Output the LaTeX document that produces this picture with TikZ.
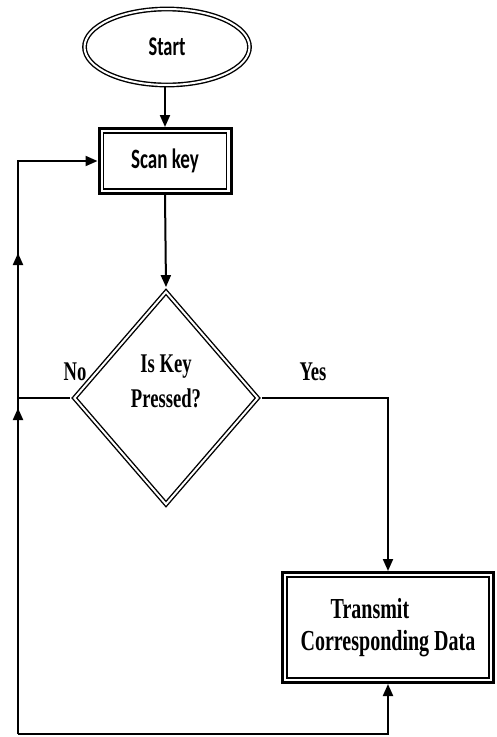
\documentclass[tikz,border=0pt]{standalone}
\usepackage{fontspec}
\newfontfamily\flowserif{Liberation Serif}[FakeStretch=0.69]
\newfontfamily\flowsans{Carlito}[FakeStretch=0.68]
\usetikzlibrary{shapes.geometric, arrows.meta, decorations.markings}

\begin{document}
\begin{tikzpicture}[x=1pt, y=-1pt,
  tip/.style={-{Triangle[length=12pt,width=10pt]}},
  link/.style={line width=2pt},
  flow/.style={link, tip},
  terminal/.style={ellipse, draw, double, line width=1.4pt, double distance=2pt,
    minimum width=165pt, minimum height=76pt, inner sep=0pt, outer sep=2.4pt,
    font=\flowsans\bfseries\fontsize{27}{30}\selectfont},
  decision/.style={diamond, draw, double, line width=1.4pt, double distance=2pt,
    minimum width=186pt, minimum height=215pt, inner sep=0pt, outer sep=3.4pt},
  process/.style={rectangle, draw, line width=3pt, inner sep=0pt},
  innerframe/.style={draw, line width=1.3pt},
  serifbig/.style={font=\flowserif\bfseries\fontsize{27}{35}\selectfont},
  upmarks/.style={postaction={decorate}, decoration={markings,
    mark=at position 326pt with {\arrow{Triangle[length=12pt,width=10pt]}},
    mark=at position 481pt with {\arrow{Triangle[length=12pt,width=10pt]}}}}
]
\useasboundingbox (0,0) rectangle (496,737);
\fill[white] (0,0) rectangle (496,737);

% start terminal
\node[terminal] (start) at (167,47) {Start};

% scan key step
\node[process, minimum width=132pt, minimum height=65pt,
      font=\flowsans\bfseries\fontsize{28}{30}\selectfont] (scan) at (165,161) {Scan key};
\draw[innerframe] ([shift={(6,6)}]scan.north west) rectangle ([shift={(-6,-6)}]scan.south east);

% key test
\node[decision] (dec) at (166,398) {};
\node[serifbig, align=center] (dectext) at (166,381) {Is Key\\Pressed?};

% transmit step
\node[process, minimum width=211pt, minimum height=110pt, align=left,
      font=\flowserif\bfseries\fontsize{29}{32}\selectfont] (tx) at (388,627.5)
      {\hspace*{30pt}Transmit\\Corresponding Data};
\draw[innerframe] ([shift={(6,6)}]tx.north west) rectangle ([shift={(-6,-6)}]tx.south east);

% branch labels
\node[serifbig] (nolabel) at (75,372) {No};
\node[serifbig] (yeslabel) at (313,372) {Yes};

% lower left corner of the return loop
\coordinate (lb) at (18,734);

% connectors
\draw[flow] (scan.north |- start.south) -- (scan.north);
\draw[flow] (scan.south) -- (dec.north);
\draw[flow] (dec.east) -| (tx.north);
\draw[link] (dec.west) -- (dec.west -| lb);
\draw[flow] (lb) -| (tx.south);
\draw[flow, upmarks] (lb) |- (scan.west);
\end{tikzpicture}
\end{document}
